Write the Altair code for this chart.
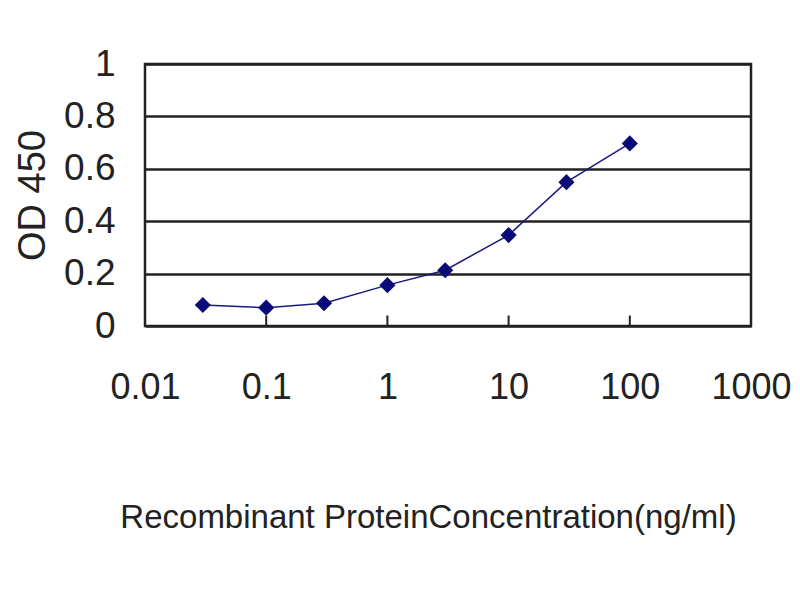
import altair as alt
import pandas as pd

conc = [0.03, 0.1, 0.3, 1, 3, 10, 30, 100]
od450 = [0.080, 0.070, 0.087, 0.156, 0.213, 0.347, 0.549, 0.697]
x_ticks = [0.01, 0.1, 1, 10, 100, 1000]
y_ticks = [0, 0.2, 0.4, 0.6, 0.8, 1]
inner_ticks = [0.1, 1, 10, 100]

df = pd.DataFrame({"conc": conc, "od": od450})
tick_df = pd.DataFrame({"t": inner_ticks, "y0": [0] * 4, "y1": [0.04] * 4})

FONT = "Liberation Sans"
W, H = 606, 262

xscale = alt.Scale(type="log", domain=[0.01, 1000])
yscale = alt.Scale(domain=[0, 1])

xaxis = alt.Axis(
    values=x_ticks, format="~g", ticks=False, grid=False,
    labelFontSize=36, labelFont=FONT, labelColor="#222", labelPadding=44,
    domain=False, title="Recombinant ProteinConcentration(ng/ml)",
    titleFont=FONT, titleFontSize=33, titleFontWeight="normal", titleColor="#222",
    titleX=283, titleY=191, titleBaseline="middle", titleAlign="center",
    labelFlush=False,
)
yaxis = alt.Axis(
    values=y_ticks, format="~g", ticks=False, grid=True,
    gridColor="#222", gridWidth=2.5,
    labelFontSize=37, labelFont=FONT, labelColor="#222", labelPadding=30,
    domain=False, title="OD 450",
    titleFont=FONT, titleFontSize=38, titleFontWeight="normal", titleColor="#222",
    titleX=-112, titleY=131, titleBaseline="middle", titleAlign="center", titleAngle=-90,
)

base = alt.Chart(df)
line = base.mark_line(color="#1a1a80", strokeWidth=1.5).encode(
    x=alt.X("conc:Q", scale=xscale, axis=xaxis),
    y=alt.Y("od:Q", scale=yscale, axis=yaxis),
)
pts = base.mark_point(shape="diamond", filled=True, size=260, color="#0a0a78", opacity=1).encode(
    x=alt.X("conc:Q", scale=xscale),
    y=alt.Y("od:Q", scale=yscale),
)
ticks = alt.Chart(tick_df).mark_rule(color="#222", strokeWidth=2).encode(
    x=alt.X("t:Q", scale=xscale),
    y=alt.Y("y0:Q", scale=yscale),
    y2="y1:Q",
)

chart = alt.layer(ticks, line, pts).properties(
    width=W, height=H,
    autosize=alt.AutoSizeParams(type="none"),
    padding={"left": 137, "top": 56, "right": 41, "bottom": 220},
    background="white",
).configure_view(stroke="#222", strokeWidth=2.5)

chart.save("out.html", embed_options={"renderer": "svg", "actions": False})
